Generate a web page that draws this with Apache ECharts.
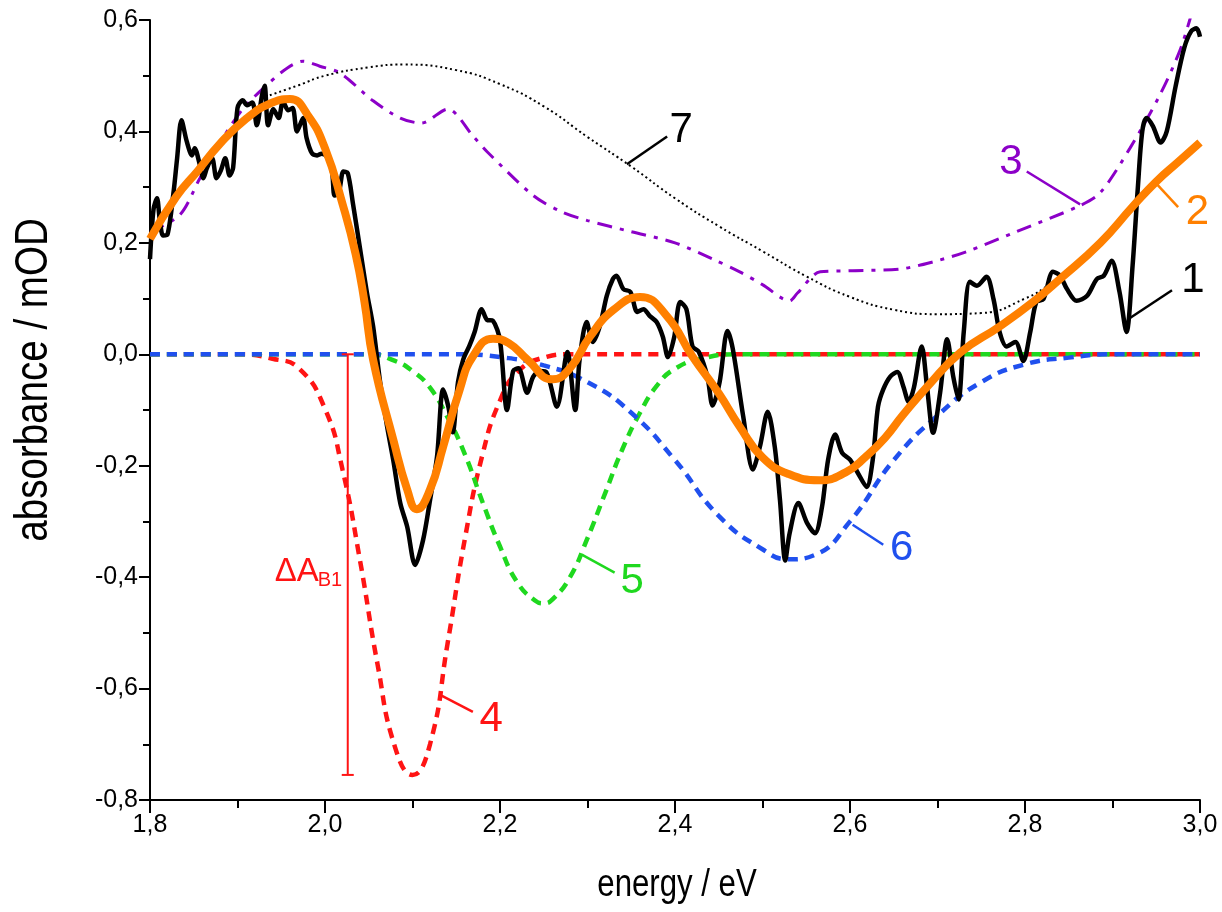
<!DOCTYPE html>
<html><head><meta charset="utf-8">
<script src="https://cdn.jsdelivr.net/npm/echarts@6/dist/echarts.min.js"></script>
<style>html,body{margin:0;padding:0;background:#fff}#c{width:1222px;height:912px}</style>
</head><body><div id="c"></div>
<script>
// ---- data ----
const measuredE = [1.800,1.804,1.808,1.811,1.815,1.820,1.827,1.831,1.836,1.842,1.848,1.851,1.857,1.861,1.865,1.871,1.876,1.881,1.886,1.891,1.895,1.900,1.906,1.911,1.917,1.922,1.928,1.931,1.935,1.941,1.947,1.952,1.958,1.963,1.968,1.975,1.979,1.985,1.991,1.996,2.002,2.008,2.011,2.016,2.021,2.026,2.032,2.040,2.048,2.055,2.063,2.071,2.078,2.086,2.094,2.103,2.112,2.120,2.128,2.135,2.141,2.146,2.152,2.158,2.165,2.171,2.179,2.185,2.192,2.200,2.208,2.215,2.221,2.231,2.238,2.246,2.253,2.265,2.277,2.286,2.291,2.299,2.306,2.314,2.322,2.329,2.333,2.341,2.349,2.357,2.364,2.371,2.379,2.386,2.392,2.399,2.406,2.413,2.420,2.427,2.437,2.443,2.451,2.460,2.466,2.478,2.489,2.497,2.506,2.514,2.520,2.526,2.531,2.541,2.551,2.560,2.568,2.575,2.583,2.591,2.600,2.609,2.619,2.626,2.632,2.638,2.646,2.654,2.661,2.667,2.673,2.682,2.688,2.695,2.703,2.711,2.718,2.724,2.730,2.737,2.745,2.756,2.764,2.771,2.779,2.789,2.798,2.806,2.813,2.821,2.832,2.840,2.848,2.859,2.871,2.882,2.890,2.899,2.908,2.916,2.923,2.929,2.934,2.939,2.946,2.955,2.962,2.972,2.982,2.990,2.996,3.000];
const measuredA = [0.171,0.26,0.28,0.244,0.213,0.215,0.292,0.352,0.42,0.382,0.357,0.37,0.34,0.316,0.334,0.352,0.316,0.33,0.352,0.321,0.335,0.442,0.456,0.447,0.452,0.411,0.465,0.482,0.411,0.44,0.424,0.454,0.438,0.442,0.40,0.424,0.388,0.361,0.357,0.36,0.355,0.328,0.285,0.292,0.328,0.325,0.27,0.19,0.11,0.05,-0.05,-0.13,-0.19,-0.267,-0.31,-0.378,-0.334,-0.262,-0.184,-0.063,-0.094,-0.14,-0.05,-0.009,0.015,0.04,0.081,0.062,0.06,0.025,-0.1,-0.03,-0.025,-0.069,-0.04,-0.03,-0.032,-0.094,0.004,-0.10,-0.009,0.058,0.022,0.05,0.105,0.135,0.141,0.117,0.112,0.076,0.081,0.069,0.058,0.032,-0.005,0.03,0.094,0.081,0.014,0.005,-0.04,-0.092,-0.05,0.042,0.01,-0.112,-0.207,-0.166,-0.103,-0.166,-0.262,-0.37,-0.321,-0.267,-0.303,-0.321,-0.274,-0.189,-0.144,-0.177,-0.189,-0.213,-0.238,-0.189,-0.094,-0.063,-0.04,-0.032,-0.058,-0.085,-0.06,0.014,-0.058,-0.141,-0.069,0.027,-0.04,-0.081,0.04,0.13,0.123,0.139,0.099,0.04,0.014,0.022,-0.012,0.04,0.094,0.099,0.148,0.141,0.117,0.096,0.105,0.135,0.141,0.168,0.112,0.04,0.16,0.30,0.40,0.424,0.41,0.38,0.40,0.48,0.55,0.58,0.585,0.57];

const fitE = [1.80,1.83,1.855,1.88,1.91,1.937,1.96,1.98,2.00,2.02,2.035,2.045,2.055,2.078,2.094,2.105,2.12,2.135,2.154,2.169,2.192,2.21,2.231,2.26,2.28,2.303,2.33,2.36,2.39,2.42,2.45,2.474,2.50,2.53,2.565,2.595,2.618,2.64,2.66,2.69,2.726,2.771,2.81,2.84,2.886,2.923,2.95,2.975,3.00];
const fitA = [0.207,0.283,0.33,0.378,0.423,0.45,0.458,0.43,0.37,0.27,0.18,0.095,-0.01,-0.153,-0.243,-0.278,-0.243,-0.166,-0.063,-0.004,0.028,0.02,-0.009,-0.045,-0.025,0.032,0.08,0.103,0.07,-0.004,-0.07,-0.13,-0.185,-0.215,-0.226,-0.212,-0.184,-0.15,-0.11,-0.055,0.003,0.05,0.095,0.135,0.2,0.265,0.31,0.345,0.38];

const refE = [1.80,1.834,1.857,1.88,1.906,1.934,1.957,1.975,1.994,2.017,2.055,2.086,2.11,2.14,2.17,2.185,2.238,2.27,2.30,2.35,2.40,2.443,2.474,2.50,2.531,2.54,2.566,2.60,2.657,2.695,2.733,2.79,2.863,2.886,2.92,2.954,2.977,2.989];
const refA = [0.22,0.25,0.316,0.38,0.44,0.484,0.514,0.526,0.517,0.505,0.455,0.424,0.415,0.44,0.39,0.364,0.285,0.256,0.24,0.22,0.20,0.171,0.148,0.125,0.096,0.11,0.148,0.15,0.153,0.166,0.184,0.22,0.267,0.29,0.37,0.465,0.545,0.604];

const bgE = [1.937,1.97,2.00,2.05,2.09,2.15,2.20,2.25,2.30,2.35,2.40,2.45,2.50,2.55,2.60,2.65,2.70,2.75,2.80,2.83,2.855];
const bgA = [0.465,0.483,0.50,0.515,0.52,0.51,0.485,0.445,0.39,0.337,0.28,0.23,0.185,0.14,0.103,0.08,0.072,0.074,0.1,0.128,0.16];

const b1E = [1.80,1.90,1.94,1.97,2.00,2.02,2.04,2.06,2.08,2.10,2.12,2.14,2.16,2.18,2.20,2.22,2.25,2.28,2.35,2.60,3.00];
const b1A = [0,0,-0.008,-0.025,-0.098,-0.207,-0.37,-0.556,-0.705,-0.755,-0.70,-0.52,-0.33,-0.18,-0.083,-0.032,-0.006,0,0,0,0];

const b2E = [1.80,2.05,2.08,2.10,2.12,2.14,2.16,2.18,2.20,2.22,2.24,2.25,2.26,2.28,2.30,2.32,2.34,2.36,2.38,2.40,2.43,2.47,2.60,3.00];
const b2A = [0,0,-0.012,-0.03,-0.06,-0.113,-0.18,-0.265,-0.345,-0.41,-0.442,-0.447,-0.44,-0.40,-0.33,-0.25,-0.17,-0.105,-0.055,-0.026,-0.008,0,0,0];

const b3E = [1.80,2.15,2.20,2.25,2.30,2.35,2.40,2.45,2.50,2.53,2.56,2.60,2.65,2.70,2.75,2.80,2.85,2.90,3.00];
const b3A = [0,0,-0.005,-0.02,-0.05,-0.105,-0.19,-0.29,-0.35,-0.368,-0.36,-0.30,-0.19,-0.11,-0.05,-0.018,-0.006,0,0];

// ΔA_B1 bar: energy, top, bottom
const deltaBar = [2.026, 0, -0.755];

const xTicks = [1.8, 3.0, 0.2];
const yTicks = [-0.8, 0.6, 0.2];

// ---- annotations (data coordinates) ----
const C = {black:'#000000', orange:'#ff8000', purple:'#8c00c8', red:'#ff1414', green:'#1fd81f', blue:'#2050ee'};
const notes = [
  {t:'7', c:C.black,  l:[[2.345,0.341],[2.391,0.391]], p:[2.407,0.401]},
  {t:'1', c:C.black,  l:[[2.92,0.065],[2.968,0.115]], p:[2.992,0.133]},
  {t:'2', c:C.orange, l:[[2.948,0.31],[2.975,0.264]], p:[2.997,0.255]},
  {t:'3', c:C.purple, l:[[2.802,0.328],[2.863,0.269]], p:[2.784,0.345]},
  {t:'4', c:C.red,    l:[[2.131,-0.611],[2.169,-0.642]], p:[2.19,-0.656]},
  {t:'5', c:C.green,  l:[[2.294,-0.36],[2.331,-0.392]], p:[2.351,-0.407]},
  {t:'6', c:C.blue,   l:[[2.603,-0.306],[2.638,-0.342]], p:[2.659,-0.349]}
];

const zip = (a,b) => a.map((v,i)=>[v,b[i]]);
const FONT = "'Liberation Sans', Arial, sans-serif";
const fmt = v => v.toFixed(1).replace('.', ',');

const chart = echarts.init(document.getElementById('c'), null, {renderer:'canvas'});
chart.setOption({
  animation:false,
  backgroundColor:'#fff',
  grid:{left:150, right:22, top:20, bottom:112},
  graphic:[
    {type:'text', x:677, y:886, scaleX:0.82, z:10,
     style:{text:'energy / eV', font:"38px "+FONT, fill:'#000', align:'center', verticalAlign:'middle'}},
    {type:'text', x:34, y:380, rotation:Math.PI/2, scaleX:0.82, z:10,
     style:{text:'absorbance / mOD', font:"47px "+FONT, fill:'#000', align:'center', verticalAlign:'middle'}}
  ],
  xAxis:{type:'value', min:xTicks[0], max:xTicks[1], interval:xTicks[2],
    axisLine:{show:true, onZero:false, lineStyle:{color:'#000', width:2}},
    axisTick:{show:true, inside:false, length:13, lineStyle:{color:'#000', width:2}},
    minorTick:{show:true, splitNumber:2, length:8, lineStyle:{color:'#000', width:2}},
    splitLine:{show:false},
    axisLabel:{formatter:fmt, fontFamily:FONT, fontSize:25, color:'#000', margin:13}},
  yAxis:{type:'value', min:yTicks[0], max:yTicks[1], interval:yTicks[2],
    axisLine:{show:true, onZero:false, lineStyle:{color:'#000', width:2}},
    axisTick:{show:true, inside:false, length:11, lineStyle:{color:'#000', width:2}},
    minorTick:{show:true, splitNumber:2, length:7, lineStyle:{color:'#000', width:2}},
    splitLine:{show:false},
    axisLabel:{formatter:fmt, fontFamily:FONT, fontSize:25, color:'#000', margin:12}},
  series:[
    {type:'line', data:zip(b1E,b1A), smooth:0.5, showSymbol:false, z:2,
     lineStyle:{color:C.red, width:4.5, type:[10,7]}},
    {type:'line', data:zip(b2E,b2A), smooth:0.5, showSymbol:false, z:2,
     lineStyle:{color:C.green, width:4.5, type:[10,7]}},
    {type:'line', data:zip(b3E,b3A), smooth:0.5, showSymbol:false, z:2,
     lineStyle:{color:C.blue, width:4.5, type:[10,7]}},
    {type:'line', data:zip(refE,refA), smooth:0.3, showSymbol:false, z:3,
     lineStyle:{color:C.purple, width:3, type:[15,8,4,8]}},
    {type:'line', data:zip(bgE,bgA), smooth:0.5, showSymbol:false, z:3,
     lineStyle:{color:'#000', width:2, type:[2,3]}},
    {type:'line', data:zip(measuredE,measuredA), smooth:0.3, showSymbol:false, z:4,
     lineStyle:{color:'#000', width:4.5}},
    {type:'line', data:zip(fitE,fitA), smooth:0.5, showSymbol:false, z:5,
     lineStyle:{color:C.orange, width:8}},
    {type:'custom', z:6, clip:false, data:[deltaBar],
     renderItem:(params, api)=>{
       const top = api.coord([api.value(0), api.value(1)]);
       const bot = api.coord([api.value(0), api.value(2)]);
       const s = {stroke:C.red, lineWidth:2};
       return {type:'group', children:[
         {type:'line', shape:{x1:top[0],y1:top[1],x2:bot[0],y2:bot[1]}, style:s},
         {type:'line', shape:{x1:top[0]-6,y1:top[1],x2:top[0]+6,y2:top[1]}, style:s},
         {type:'line', shape:{x1:bot[0]-6,y1:bot[1],x2:bot[0]+6,y2:bot[1]}, style:s},
         {type:'text', x:top[0]-29, y:(top[1]+bot[1])/2+7, style:{text:'ΔA', fill:C.red, font:"33px "+FONT, align:'right', verticalAlign:'middle'}},
         {type:'text', x:top[0]-30, y:(top[1]+bot[1])/2+16, style:{text:'B1', fill:C.red, font:"20px "+FONT, align:'left', verticalAlign:'middle'}}
       ]};
     }},
    {type:'custom', z:7, clip:false, data:notes.map(n=>n.p),
     renderItem:(params, api)=>{
       const n = notes[params.dataIndex];
       const a = api.coord(n.l[0]), b = api.coord(n.l[1]), p = api.coord(n.p);
       return {type:'group', children:[
         {type:'line', shape:{x1:a[0],y1:a[1],x2:b[0],y2:b[1]}, style:{stroke:n.c, lineWidth:2.5}},
         {type:'text', x:p[0], y:p[1], style:{text:n.t, fill:n.c, font:"42px "+FONT, align:'center', verticalAlign:'middle'}}
       ]};
     }}
  ]
});
</script></body></html>
